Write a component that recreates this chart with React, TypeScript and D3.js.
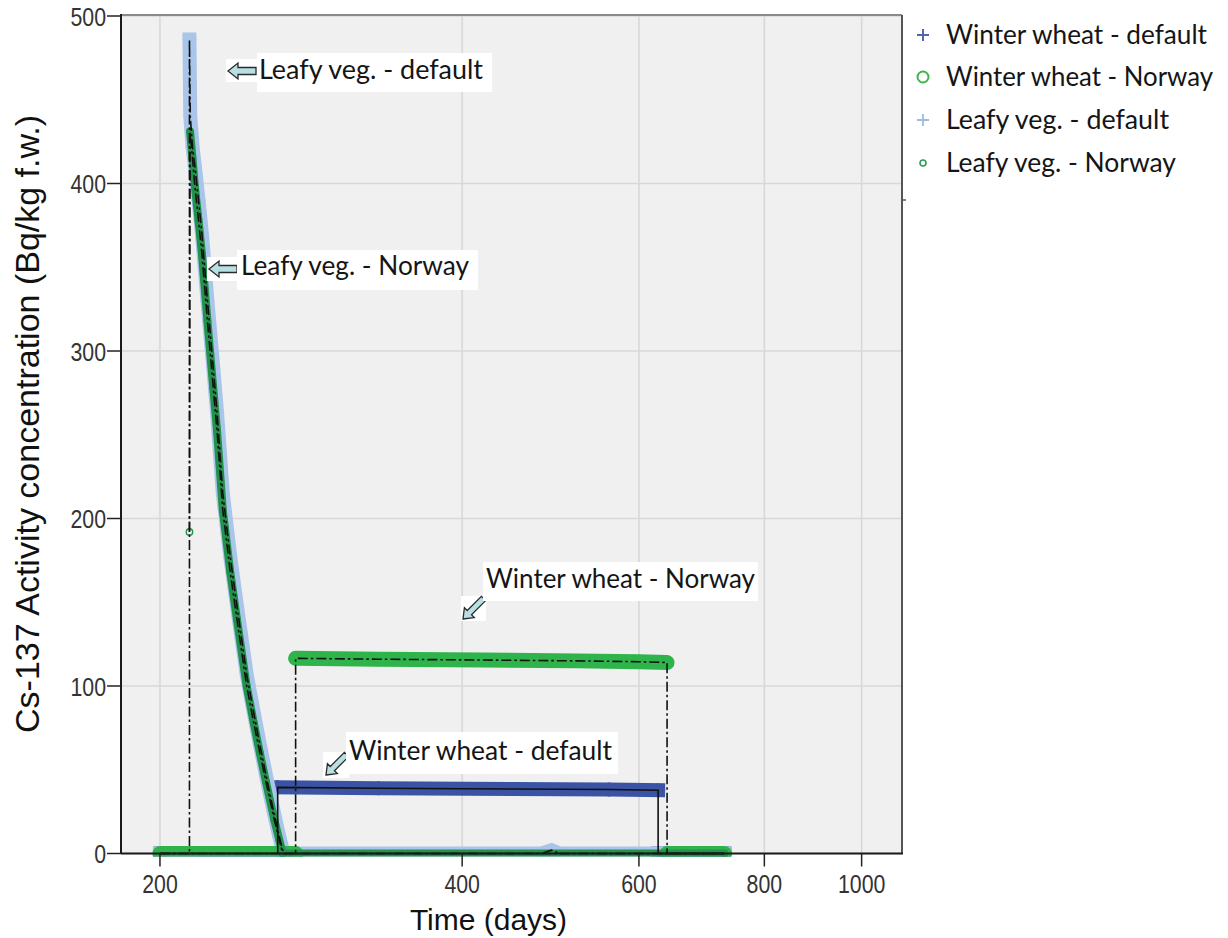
import React from "react";
import * as d3 from "d3";

const W = 1228;
const H = 938;

// Axis ticks
const xTickValues = [200, 400, 600, 800, 1000];
const yTickValues = [0, 100, 200, 300, 400, 500];

// Winter wheat - default (Bq/kg f.w.), run index marks contiguous daily sampling
const wwDefaultDays = [200, 262, 262, 330, 450, 560, 627, 627, 730];
const wwDefaultValues = [0, 0, 39.5, 39, 38.5, 38.2, 37.8, 0, 0];
const wwDefaultRuns = [0, 0, 1, 1, 1, 1, 1, 2, 2];

// Winter wheat - Norway
const wwNorwayDays = [200, 273, 273, 330, 420, 520, 600, 640, 640, 730];
const wwNorwayValues = [0, 0, 116.5, 116, 115.5, 115, 114.5, 114, 0, 0];
const wwNorwayRuns = [0, 0, 1, 1, 1, 1, 1, 1, 2, 2];

// Leafy vegetables - default
const leafyDefaultDays = [
  200, 214, 214, 214.2, 214.4, 215.5, 216.7, 218.5, 220.2, 223, 226, 228, 231,
  235, 238.6, 244, 248, 251.5, 255, 260, 263, 265.5, 480, 491, 500, 730,
];
const leafyDefaultValues = [
  0, 0, 486, 462, 440, 422, 410, 390, 370, 330, 290, 263, 215, 177, 148, 107,
  84, 65, 47, 23, 10, 0, 0, 2, 0, 0,
];
const leafyDefaultRuns = [
  0, 0, 1, 1, 1, 1, 1, 1, 1, 1, 1, 1, 1, 1, 1, 1, 1, 1, 1, 1, 1, 1, 1, 1, 1, 1,
];

// Leafy vegetables - Norway
const leafyNorwayDays = [
  214, 214.3, 215.5, 216.7, 218.5, 220.2, 223, 226, 228, 231, 235, 238.6, 244,
  248, 251.5, 255, 260, 263, 265, 730,
];
const leafyNorwayValues = [
  192, 431, 415, 398, 378, 358, 318, 278, 252, 205, 168, 140, 100, 78, 60, 43,
  20, 8, 0, 0,
];
const leafyNorwayRuns = [
  0, 1, 1, 1, 1, 1, 1, 1, 1, 1, 1, 1, 1, 1, 1, 1, 1, 1, 1, 1,
];

const legendLabels = [
  "Winter wheat - default",
  "Winter wheat - Norway",
  "Leafy veg. - default",
  "Leafy veg. - Norway",
];

type Pt = { t: number; v: number; r: number };

function toPoints(days: number[], values: number[], runs: number[]): Pt[] {
  return days.map((t, i) => ({ t, v: values[i], r: runs[i] }));
}

// Drawing order: bottom to top
const series = [
  {
    key: "wwDefault",
    pts: toPoints(wwDefaultDays, wwDefaultValues, wwDefaultRuns),
    color: "#3b53a4",
    band: 14,
    cap: "square",
    marker: "plus",
    msize: 7,
    mwidth: 2.5,
    dash: null,
  },
  {
    key: "leafyDefault",
    pts: toPoints(leafyDefaultDays, leafyDefaultValues, leafyDefaultRuns),
    color: "#a9c6ea",
    band: 14,
    cap: "square",
    marker: "plus",
    msize: 7,
    mwidth: 1.5,
    dash: "10,3,2.5,3",
  },
  {
    key: "wwNorway",
    pts: toPoints(wwNorwayDays, wwNorwayValues, wwNorwayRuns),
    color: "#2fb44c",
    band: 15,
    cap: "round",
    marker: "circle",
    msize: 6,
    mwidth: 2,
    dash: "10,3,2.5,3",
  },
  {
    key: "leafyNorway",
    pts: toPoints(leafyNorwayDays, leafyNorwayValues, leafyNorwayRuns),
    color: "#23924c",
    band: 8,
    cap: "round",
    marker: "circle",
    msize: 3.2,
    mwidth: 1.4,
    dash: "10,3,2.5,3",
  },
];

const annotations = [
  { label: "Leafy veg. - default", box: [257, 53, 235, 39], tx: 259, ty: 79, tl: 224, tip: [228, 71], angle: 180, bg: [226, 59, 32, 23], len: 28, head: 10, hw: 8, sw: 3.5 },
  { label: "Leafy veg. - Norway", box: [237, 250, 241, 40], tx: 241, ty: 275, tl: 228, tip: [209, 269], angle: 180, bg: [207, 257, 31, 24], len: 28, head: 10, hw: 8, sw: 3.5 },
  { label: "Winter wheat - Norway", box: [483, 562, 275, 39], tx: 486, ty: 588, tl: 269, tip: [463, 619], angle: 135, bg: [461, 596, 25, 25], len: 29, head: 9, hw: 7, sw: 3 },
  { label: "Winter wheat - default", box: [346, 732, 272, 42], tx: 349, ty: 760, tl: 263, tip: [326, 775], angle: 135, bg: [323, 752, 26, 26], len: 29, head: 9, hw: 7, sw: 3 },
];

const PL = 121;
const PR = 902;
const PT = 15;
const PB = 853.5;

const x = d3.scaleLog().domain([182.9, 1097]).range([PL, PR]);
const y = d3.scaleLinear().domain([0, 500]).range([PB, 16]);

const line = d3
  .line<Pt>()
  .x((d) => x(d.t))
  .y((d) => y(d.v));

function markerPath(kind: string, s: number) {
  if (kind === "plus") return `M${-s},0H${s}M0,${-s}V${s}`;
  return d3.arc()({ innerRadius: 0, outerRadius: s, startAngle: 0, endAngle: 2 * Math.PI }) as string;
}

function arrowPoints(len: number, head: number, hw: number, sw: number) {
  return [
    [0, 0],
    [-head, -hw],
    [-head, -sw],
    [-len, -sw],
    [-len, sw],
    [-head, sw],
    [-head, hw],
  ]
    .map((p) => p.join(","))
    .join(" ");
}

const sansFont = "'Liberation Sans', Arial, sans-serif";
const labelFont = "Lato, 'Open Sans', sans-serif";

export default function App() {
  return (
    <svg
      width={W}
      height={H}
      style={{ position: "absolute", left: 0, top: 0, background: "#fff" }}
    >
      <defs>
        <clipPath id="plotClip">
          <rect x={PL} y={0} width={PR - PL} height={PB + 3} />
        </clipPath>
      </defs>

      {/* plot background */}
      <rect x={PL} y={PT} width={PR - PL} height={PB - PT} fill="#f0f0f0" />

      {/* grid */}
      {yTickValues.map((v) => (
        <line key={"gy" + v} x1={PL} x2={PR} y1={y(v)} y2={y(v)} stroke="#d8d8d8" strokeWidth={1.6} />
      ))}
      {xTickValues.map((t) => (
        <line key={"gx" + t} x1={x(t)} x2={x(t)} y1={PT} y2={PB} stroke="#d8d8d8" strokeWidth={1.6} />
      ))}

      {/* frame */}
      <line x1={PL} x2={PR} y1={PT} y2={PT} stroke="#8a8a8a" strokeWidth={2} />
      <line x1={PR} x2={PR} y1={PT} y2={PB} stroke="#555" strokeWidth={2} />
      <line x1={PR} x2={PR + 4} y1={200} y2={200} stroke="#555" strokeWidth={1.5} />

      {/* data */}
      <g clipPath="url(#plotClip)">
        {series.map((s) => {
          const groups = d3.groups(s.pts, (p) => p.r).map((g) => g[1]);
          return (
            <g key={s.key + "band"}>
              {groups
                .filter((g) => g.length > 1)
                .map((g, i) => (
                  <path
                    key={i}
                    d={line(g) as string}
                    fill="none"
                    stroke={s.color}
                    strokeWidth={s.band}
                    strokeLinecap={s.cap as any}
                    strokeLinejoin={s.cap === "round" ? "round" : "miter"}
                  />
                ))}
              {s.pts.map((p, i) => (
                <path
                  key={i}
                  transform={`translate(${x(p.t)},${y(p.v)})`}
                  d={markerPath(s.marker, s.msize)}
                  fill="none"
                  stroke={s.color}
                  strokeWidth={s.mwidth}
                />
              ))}
            </g>
          );
        })}
        {series.map((s) => (
          <path
            key={s.key + "line"}
            d={line(s.pts) as string}
            fill="none"
            stroke="#111"
            strokeWidth={1.6}
            strokeDasharray={s.dash ?? undefined}
          />
        ))}
      </g>

      {/* axes */}
      <line x1={PL} x2={PL} y1={PT - 1} y2={PB} stroke="#1a1a1a" strokeWidth={2} />
      <line x1={PL} x2={PR + 1} y1={PB} y2={PB} stroke="#1a1a1a" strokeWidth={2} />
      {yTickValues.map((v) => (
        <g key={"ty" + v}>
          <line x1={107} x2={PL} y1={y(v)} y2={y(v)} stroke="#222" strokeWidth={1.5} />
          <text
            transform={`translate(106,${y(v) + 9.5}) scale(0.82,1)`}
            textAnchor="end"
            fontFamily={sansFont}
            fontSize={26}
            fill="#333"
          >
            {v}
          </text>
        </g>
      ))}
      {xTickValues.map((t) => (
        <g key={"tx" + t}>
          <line x1={x(t)} x2={x(t)} y1={PB} y2={PB + 13} stroke="#222" strokeWidth={1.5} />
          <text
            transform={`translate(${x(t)},893) scale(0.82,1)`}
            textAnchor="middle"
            fontFamily={sansFont}
            fontSize={26}
            fill="#333"
          >
            {t}
          </text>
        </g>
      ))}

      {/* axis titles */}
      <text x={488.5} y={930} textAnchor="middle" fontFamily={sansFont} fontSize={30} fill="#111">
        Time (days)
      </text>
      <text
        transform="translate(39,424) rotate(-90)"
        textAnchor="middle"
        fontFamily={sansFont}
        fontSize={34}
        fill="#111"
      >
        Cs-137 Activity concentration (Bq/kg f.w.)
      </text>

      {/* callouts */}
      {annotations.map((a) => (
        <g key={a.label}>
          <rect x={a.bg[0]} y={a.bg[1]} width={a.bg[2]} height={a.bg[3]} fill="#fff" />
          <polygon
            transform={`translate(${a.tip[0]},${a.tip[1]}) rotate(${a.angle})`}
            points={arrowPoints(a.len, a.head, a.hw, a.sw)}
            fill="#b9dfe2"
            stroke="#2a2a2a"
            strokeWidth={1.3}
            strokeLinejoin="miter"
          />
          <rect x={a.box[0]} y={a.box[1]} width={a.box[2]} height={a.box[3]} fill="#fff" />
          <text
            x={a.tx}
            y={a.ty}
            fontFamily={labelFont}
            fontSize={26}
            fill="#151515"
            textLength={a.tl}
            lengthAdjust="spacingAndGlyphs"
          >
            {a.label}
          </text>
        </g>
      ))}

      {/* legend */}
      {legendLabels.map((lab, i) => {
        const ry = [35, 77, 120, 163][i];
        const tl = [261, 267, 223, 230][i];
        const mk = [
          { kind: "plus", s: 6, c: "#5363ad", w: 2 },
          { kind: "circle", s: 5.5, c: "#3cb54a", w: 2 },
          { kind: "plus", s: 6, c: "#9dbbe3", w: 1.8 },
          { kind: "circle", s: 3, c: "#2f9e53", w: 1.6 },
        ][i];
        return (
          <g key={lab}>
            <path
              transform={`translate(923,${ry})`}
              d={markerPath(mk.kind, mk.s)}
              fill="none"
              stroke={mk.c}
              strokeWidth={mk.w}
            />
            <text
              x={946}
              y={ry + 9}
              fontFamily={labelFont}
              fontSize={26}
              fill="#151515"
              textLength={tl}
              lengthAdjust="spacingAndGlyphs"
            >
              {lab}
            </text>
          </g>
        );
      })}
    </svg>
  );
}
